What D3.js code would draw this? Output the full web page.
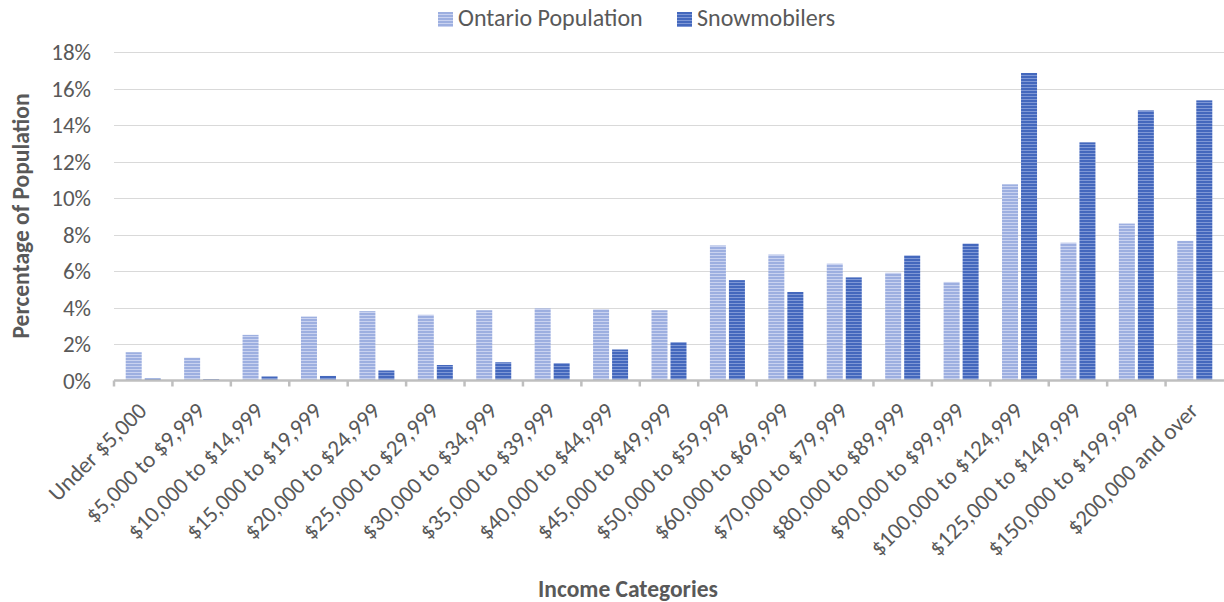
<!DOCTYPE html>
<html>
<head>
<meta charset="utf-8">
<script src="https://cdn.jsdelivr.net/npm/d3@7"></script>
<style>
  body { margin: 0; background: #fff; }
  text { font-family: Calibri, Carlito, "Open Sans", sans-serif; fill: #595959; }
</style>
</head>
<body>
<div id="chart"></div>
<script>
const categories = [
  "Under $5,000", "$5,000 to $9,999", "$10,000 to $14,999", "$15,000 to $19,999",
  "$20,000 to $24,999", "$25,000 to $29,999", "$30,000 to $34,999", "$35,000 to $39,999",
  "$40,000 to $44,999", "$45,000 to $49,999", "$50,000 to $59,999", "$60,000 to $69,999",
  "$70,000 to $79,999", "$80,000 to $89,999", "$90,000 to $99,999", "$100,000 to $124,999",
  "$125,000 to $149,999", "$150,000 to $199,999", "$200,000 and over"
];
const seriesNames = ["Ontario Population", "Snowmobilers"];
const ontario = [1.55, 1.25, 2.5, 3.5, 3.8, 3.6, 3.85, 3.95, 3.9, 3.85, 7.4, 6.9, 6.4, 5.9, 5.4, 10.75, 7.55, 8.6, 7.65];
const snowmobilers = [0.12, 0.08, 0.22, 0.25, 0.55, 0.85, 1.0, 0.95, 1.7, 2.1, 5.5, 4.85, 5.65, 6.85, 7.5, 16.85, 13.05, 14.8, 15.35];
const yTicks = [0, 2, 4, 6, 8, 10, 12, 14, 16, 18];

const W = 1224, H = 602;
const margin = { top: 52, right: 0, bottom: 221.5, left: 114 };
const width = W - margin.left - margin.right;
const height = H - margin.top - margin.bottom;

const svg = d3.select("#chart").append("svg")
  .attr("width", W)
  .attr("height", H);

// striped fills like the excel pattern
const defs = svg.append("defs");
const fills = [
  { id: "patOnt", base: "#9dafe0", line: "#c9d2f0" },
  { id: "patSnow", base: "#4468bd", line: "#7f98d6" }
];
fills.forEach((f) => {
  const p = defs.append("pattern")
    .attr("id", f.id)
    .attr("patternUnits", "userSpaceOnUse")
    .attr("width", 6)
    .attr("height", 3);
  p.append("rect").attr("width", 6).attr("height", 3).attr("fill", f.base);
  p.append("rect").attr("y", 2).attr("width", 6).attr("height", 1).attr("fill", f.line);
});

const g = svg.append("g")
  .attr("transform", `translate(${margin.left},${margin.top})`);

const x0 = d3.scaleBand().domain(categories).range([0, width]).padding(0);
const x1 = d3.scaleBand().domain(seriesNames).range([0, x0.bandwidth()])
  .paddingInner(0.158).paddingOuter(0.616);
const y = d3.scaleLinear().domain([0, 18]).range([height, 0]);

// gridlines
g.append("g")
  .selectAll("line")
  .data(yTicks.filter((d) => d > 0))
  .join("line")
  .attr("x1", 0)
  .attr("x2", width)
  .attr("y1", (d) => Math.round(y(d)) + 0.5)
  .attr("y2", (d) => Math.round(y(d)) + 0.5)
  .attr("stroke", "#d9d9d9")
  .attr("stroke-width", 1);

// y tick labels
g.append("g")
  .selectAll("text")
  .data(yTicks)
  .join("text")
  .attr("x", -23)
  .attr("y", (d) => y(d))
  .attr("dy", "0.35em")
  .attr("text-anchor", "end")
  .style("font-size", "23px")
  .text((d) => d + "%");

// bars
const rows = categories.map((c, i) => ({ cat: c, vals: [ontario[i], snowmobilers[i]] }));
const grp = g.append("g").selectAll("g")
  .data(rows)
  .join("g")
  .attr("transform", (d) => `translate(${x0(d.cat)},0)`);
grp.selectAll("rect")
  .data((d) => d.vals.map((v, k) => ({ key: seriesNames[k], v: v, k: k })))
  .join("rect")
  .attr("x", (d) => x1(d.key))
  .attr("width", x1.bandwidth())
  .attr("y", (d) => y(d.v))
  .attr("height", (d) => height - y(d.v))
  .attr("fill", (d) => `url(#${fills[d.k].id})`);

// x axis
const xAxis = g.append("g").attr("transform", `translate(0,${height})`);
xAxis.append("line")
  .attr("x1", 0).attr("x2", width)
  .attr("y1", 0).attr("y2", 0)
  .attr("stroke", "#bfbfbf")
  .attr("stroke-width", 2.5);
xAxis.selectAll(".tk")
  .data(categories)
  .join("line")
  .attr("class", "tk")
  .attr("x1", (d) => x0(d)).attr("x2", (d) => x0(d))
  .attr("y1", 0).attr("y2", 6)
  .attr("stroke", "#bfbfbf")
  .attr("stroke-width", 2.5);
xAxis.selectAll(".lbl")
  .data(categories)
  .join("text")
  .attr("class", "lbl")
  .attr("text-anchor", "end")
  .attr("transform", (d) => `translate(${x0(d) + x0.bandwidth() / 2 - 1},${26}) rotate(-45)`)
  .attr("dy", "0.35em")
  .style("font-size", "23px")
  .text((d) => d);

// axis titles
svg.append("text")
  .attr("x", 628)
  .attr("y", 597)
  .attr("text-anchor", "middle")
  .style("font-size", "23.5px")
  .style("font-weight", "bold")
  .text("Income Categories");

svg.append("text")
  .attr("transform", "translate(29,216) rotate(-90)")
  .attr("text-anchor", "middle")
  .style("font-size", "23.5px")
  .style("font-weight", "bold")
  .text("Percentage of Population");

// legend
const legendX = [438, 677];
const leg = svg.append("g").selectAll("g")
  .data(seriesNames)
  .join("g")
  .attr("transform", (d, i) => `translate(${legendX[i]},0)`);
leg.append("rect")
  .attr("x", 0).attr("y", 12)
  .attr("width", 15).attr("height", 15)
  .attr("fill", (d, i) => `url(#${fills[i].id})`);
leg.append("text")
  .attr("x", 20)
  .attr("y", 26)
  .style("font-size", "24px")
  .text((d) => d);
</script>
</body>
</html>
